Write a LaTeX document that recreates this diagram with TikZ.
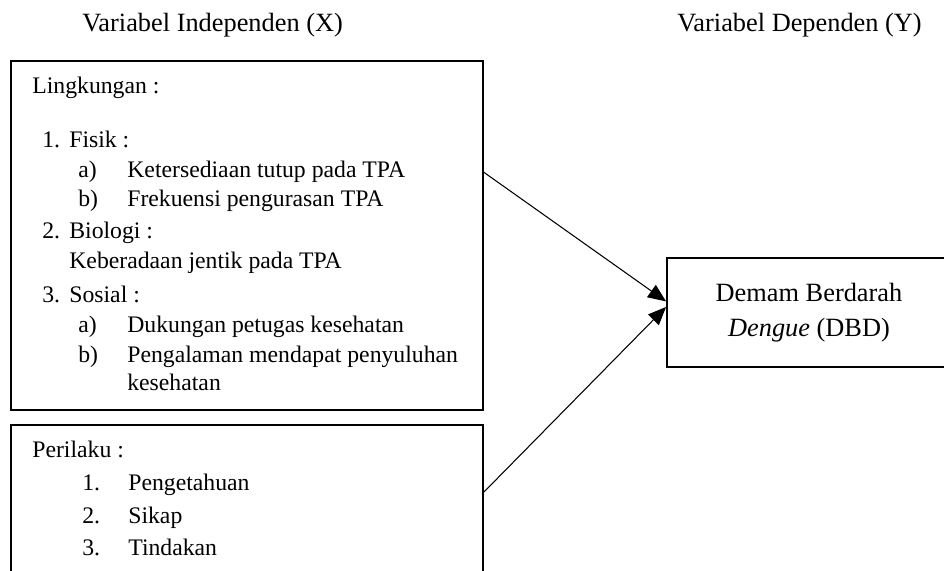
\documentclass[tikz,border=0pt]{standalone}
\usepackage{fontspec}
\setmainfont{Liberation Serif}
\usepackage{tikz}
\usetikzlibrary{arrows.meta, positioning, calc}

\tikzset{
  box/.style={draw, line width=1.1pt, inner sep=0pt},
  itemtxt/.style={anchor=base west, inner sep=0pt, font=\fontsize{13.5}{16}\selectfont},
  headtxt/.style={anchor=base west, inner sep=0pt, font=\fontsize{15}{18}\selectfont},
  link/.style={-{Triangle[length=0.36cm, width=0.3cm]}, line width=0.6pt}
}

\begin{document}
\begin{tikzpicture}[x=0.02cm, y=-0.02cm]
  \clip (0,0) rectangle (944,571);

  % headings
  \node[headtxt] (hx) at (82, 32) {Variabel Independen (X)};
  \node[headtxt] (hy) at (677, 32) {Variabel Dependen (Y)};

  % Lingkungan box
  \node[box, minimum width=9.44cm, minimum height=6.98cm] (lingk) at (247, 235.5) {};
  \node[itemtxt] (lhead) at (32, 94) {Lingkungan :};
  \node[itemtxt] (n1) at (42, 148) {1.};
  \node[itemtxt] (fisik) at (69, 148) {Fisik :};
  \node[itemtxt] (fa) at (78, 177) {a)};
  \node[itemtxt] (fatx) at (127, 177) {Ketersediaan tutup pada TPA};
  \node[itemtxt] (fb) at (78, 207) {b)};
  \node[itemtxt] (fbtx) at (127, 207) {Frekuensi pengurasan TPA};
  \node[itemtxt] (n2) at (42, 238) {2.};
  \node[itemtxt] (bio) at (69, 238) {Biologi :};
  \node[itemtxt] (biotx) at (69, 268) {Keberadaan jentik pada TPA};
  \node[itemtxt] (n3) at (42, 302) {3.};
  \node[itemtxt] (sos) at (69, 302) {Sosial :};
  \node[itemtxt] (sa) at (78, 332) {a)};
  \node[itemtxt] (satx) at (127, 332) {Dukungan petugas kesehatan};
  \node[itemtxt] (sb) at (78, 362) {b)};
  \node[itemtxt] (sbtx) at (127, 362) {Pengalaman mendapat penyuluhan};
  \node[itemtxt] (sbtx2) at (127, 390) {kesehatan};

  % Perilaku box
  \node[box, minimum width=9.44cm, minimum height=3.2cm] (peril) at (247, 505) {};
  \node[itemtxt] (phead) at (32, 457) {Perilaku :};
  \node[itemtxt] (p1) at (82, 490) {1.};
  \node[itemtxt] (p1tx) at (128, 490) {Pengetahuan};
  \node[itemtxt] (p2) at (82, 523) {2.};
  \node[itemtxt] (p2tx) at (128, 523) {Sikap};
  \node[itemtxt] (p3) at (82, 555) {3.};
  \node[itemtxt] (p3tx) at (128, 555) {Tindakan};

  % DBD box
  \node[box, minimum width=5.68cm, minimum height=2.18cm, align=center,
        font=\fontsize{15}{19.8}\selectfont] (dbd) at (809, 312.5)
        {Demam Berdarah\\\textit{Dengue} (DBD)};

  % links
  \draw[link] ($(lingk.north east)!0.32!(lingk.south east)$) -- ($(dbd.north west)!0.40!(dbd.south west)$);
  \draw[link] ($(peril.north east)!0.42!(peril.south east)$) -- ($(dbd.north west)!0.45!(dbd.south west)$);
\end{tikzpicture}
\end{document}
